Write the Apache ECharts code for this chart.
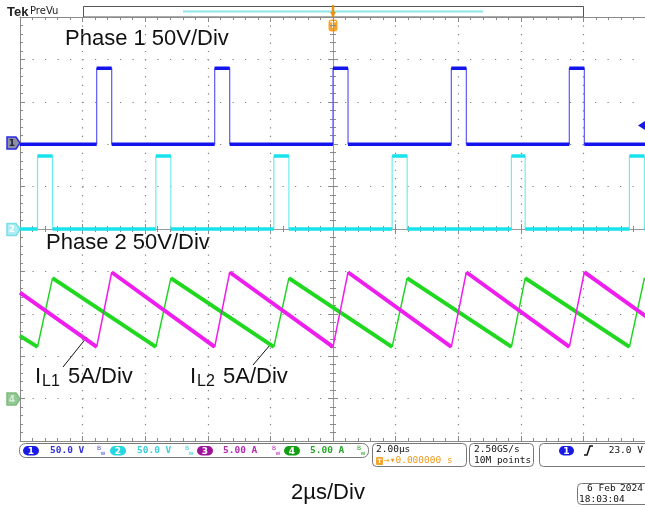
<!DOCTYPE html>
<html>
<head>
	<meta charset="utf-8">
</head>
<body style="margin: 0; background: #fff">
<div id="container" style="width: 645px; height: 508px"></div>
<script type="text/javascript" src="https://cdn.jsdelivr.net/npm/echarts@6/dist/echarts.min.js"></script>
<script type="text/javascript">
    var dom = document.getElementById("container");
    var myChart = echarts.init(dom);

    // time in µs (2 µs/div, trigger at 0), vertical in divisions (-5..5)
    var ch1Rise = [-7.55, -3.78, 0, 3.78, 7.55];
    var ch1Fall = [-7.07, -3.30, 0.48, 4.26, 8.03];
    var ch1High = 89.6;   // V
    var ch2Rise = [-9.44, -5.66, -1.89, 1.89, 5.70, 9.47];
    var ch2Fall = [-8.96, -5.18, -1.41, 2.37, 6.14, 9.95];
    var ch2High = 86;     // V
    var iL1Time = [-10, -7.55, -7.07, -3.78, -3.30, 0, 0.48, 3.78, 4.26, 7.55, 8.03, 10];
    var iL1Amp = [12.5, 6.1, 14.9, 6.1, 14.9, 6.1, 14.9, 6.1, 14.9, 6.1, 14.9, 9.7];
    var iL2Time = [-10, -9.44, -8.96, -5.66, -5.18, -1.89, -1.41, 1.89, 2.37, 5.70, 6.14, 9.47, 9.95, 10];
    var iL2Amp = [7.4, 6.1, 14.2, 6.1, 14.2, 6.1, 14.2, 6.1, 14.2, 6.1, 14.2, 6.1, 14.2, 14.1];

    // channel position (div) and scale (units/div)
    var ch1Pos = 2, ch2Pos = 0, ch3Pos = -4, ch4Pos = -4;
    var voltsDiv = 50, ampsDiv = 5;

    function pulseTrace(rise, fall, high, pos, scale) {
        var thin = [[-10, pos]], thick = [[-10, pos]];
        var top = pos + high / scale;
        for (var i = 0; i < rise.length; i++) {
            thin.push([rise[i], pos], [rise[i], top], [fall[i], top], [fall[i], pos]);
            thick.push([rise[i], pos], [rise[i], null], [rise[i], top], [fall[i], top], [fall[i], null], [fall[i], pos]);
        }
        thin.push([10, pos]);
        thick.push([10, pos]);
        return {thin: thin, thick: thick};
    }

    function rampTrace(time, amp, pos, scale) {
        var thin = [], thick = [];
        for (var i = 0; i < time.length; i++) {
            var p = [time[i], pos + amp[i] / scale];
            thin.push(p);
            thick.push(p);
            if (i < time.length - 1 && amp[i + 1] > amp[i]) {
                thick.push([(time[i] + time[i + 1]) / 2, null]);
            }
        }
        return {thin: thin, thick: thick};
    }

    var t1 = pulseTrace(ch1Rise, ch1Fall, ch1High, ch1Pos, voltsDiv);
    var t2 = pulseTrace(ch2Rise, ch2Fall, ch2High, ch2Pos, voltsDiv);
    var t3 = rampTrace(iL1Time, iL1Amp, ch3Pos, ampsDiv);
    var t4 = rampTrace(iL2Time, iL2Amp, ch4Pos, ampsDiv);

    function lineSeries(data, color, width) {
        return {
            type: 'line', data: data, showSymbol: false, connectNulls: false,
            xAxisIndex: 0, yAxisIndex: 0, silent: true,
            lineStyle: {color: color, width: width}
        };
    }

    var gridColor = '#8a8a8a';
    function frameAxis(pos, onZero, inside, extra) {
        var a = {
            type: 'value', position: pos, min: -10, max: 10, interval: 2,
            axisLine: {show: true, onZero: onZero, lineStyle: {color: gridColor, width: 1}},
            axisTick: {show: true, inside: inside, length: 5, lineStyle: {color: gridColor}},
            minorTick: {show: true, splitNumber: 5, length: 3, lineStyle: {color: gridColor}},
            axisLabel: {show: false},
            splitLine: {show: false}
        };
        return Object.assign(a, extra || {});
    }
    function frameYAxis(pos, onZero, inside, extra) {
        var a = frameAxis(pos, onZero, inside, extra);
        a.min = -5; a.max = 5; a.interval = 1;
        return a;
    }

    var monoFont = '"DejaVu Sans Mono", monospace';
    function txt(x, y, s, font, fill, align) {
        return {type: 'text', x: x, y: y, silent: true,
            style: {text: s, font: font, fill: fill, textAlign: align || 'left', textVerticalAlign: 'middle',
                align: align || 'left', verticalAlign: 'middle'}};
    }
    function box(x, y, w, h, r) {
        return {type: 'rect', shape: {x: x, y: y, width: w, height: h, r: r}, silent: true,
            style: {fill: '#fff', stroke: '#777', lineWidth: 1}};
    }
    function badge(x, y, w, h, num, color) {
        return [
            {type: 'rect', shape: {x: x, y: y, width: w, height: h, r: h / 2}, silent: true, style: {fill: color}},
            txt(x + w / 2, y + h / 2 + 0.5, num, 'bold 9px "DejaVu Sans"', '#fff', 'center')
        ];
    }
    function bwIcon(x, color) {
        return [txt(x, 448.5, 'B', '6px "DejaVu Sans"', color), txt(x + 3.5, 453, 'w', '6px "DejaVu Sans"', color)];
    }
    function chMarker(y, fill, stroke, num, numColor) {
        return [
            {type: 'polygon', shape: {points: [[7, y - 6], [16, y - 6], [20, y], [16, y + 6], [7, y + 6]]}, silent: true,
                style: {fill: fill, stroke: stroke, lineWidth: 1.5}},
            txt(12, y + 0.5, num, 'bold 9px "DejaVu Sans"', numColor, 'center')
        ];
    }

    var labelFont = '22px "Liberation Sans", Arial, sans-serif';
    var subFont = '16px "Liberation Sans", Arial, sans-serif';
    var statFont = '9.5px ' + monoFont;

    var graphics = [].concat(
        // top header
        [txt(7, 12.5, 'Tek', 'bold 13px "Liberation Sans", Arial', '#222'),
         txt(30, 11.5, 'PreVu', '10px "DejaVu Sans"', '#222'),
         {type: 'rect', shape: {x: 83.5, y: 6.5, width: 500, height: 10.5}, silent: true, style: {fill: '#fff', stroke: '#555', lineWidth: 1}},
         {type: 'line', shape: {x1: 183, y1: 11.5, x2: 483, y2: 11.5}, silent: true, style: {stroke: '#8fe6ea', lineWidth: 2}},
         {type: 'line', shape: {x1: 333, y1: 5, x2: 333, y2: 17}, silent: true, style: {stroke: '#e8930f', lineWidth: 2.5}},
         {type: 'polygon', shape: {points: [[330, 12], [336, 12], [333, 17]]}, silent: true, style: {fill: '#e8930f'}},
         {type: 'rect', shape: {x: 328.5, y: 19.5, width: 9, height: 12, r: 3}, silent: true, style: {fill: '#f2a531'}},
         txt(333, 26, 'T', 'bold 8px "DejaVu Sans"', '#fff', 'center')],
        // annotations
        [txt(65, 39, 'Phase 1 50V/Div', labelFont, '#111'),
         txt(46, 243, 'Phase 2 50V/Div', labelFont, '#111'),
         txt(35, 377, 'I', labelFont, '#111'),
         txt(42, 382, 'L1', subFont, '#111'),
         txt(68, 377, '5A/Div', labelFont, '#111'),
         txt(190, 377, 'I', labelFont, '#111'),
         txt(197, 382, 'L2', subFont, '#111'),
         txt(223, 377, '5A/Div', labelFont, '#111'),
         {type: 'line', shape: {x1: 63, y1: 367, x2: 87, y2: 337}, silent: true, style: {stroke: '#111', lineWidth: 1}},
         {type: 'line', shape: {x1: 253, y1: 365, x2: 270, y2: 345}, silent: true, style: {stroke: '#111', lineWidth: 1}},
         txt(328, 493, '2µs/Div', labelFont, '#111', 'center')],
        // channel markers
        chMarker(143, '#8d8fa3', '#2a2ae6', '1', '#223'),
        chMarker(229.5, '#aeeef2', '#78e0e8', '2', '#fff'),
        chMarker(399, '#94c894', '#7cbc7c', '4', '#d8f0d8'),
        [{type: 'polygon', shape: {points: [[638, 125.5], [645, 121], [645, 130]]}, silent: true, style: {fill: '#1a1ae6'}}],
        // status bar
        [box(19.5, 443.5, 349, 14, 6)],
        badge(23, 446, 16, 9.5, '1', '#1a1ae6'),
        [txt(50, 451, '50.0 V', 'bold ' + statFont, '#3434d8')],
        bwIcon(97, '#4a4ad8'),
        badge(110, 446, 16, 9.5, '2', '#26d6e0'),
        [txt(137, 451, '50.0 V', 'bold ' + statFont, '#3ad0dc')],
        bwIcon(185, '#2ccfdc'),
        badge(197, 446, 16, 9.5, '3', '#a0129c'),
        [txt(223, 451, '5.00 A', 'bold ' + statFont, '#b42cb0')],
        bwIcon(272, '#b41cb0'),
        badge(284, 446, 16, 9.5, '4', '#12a012'),
        [txt(310, 451, '5.00 A', 'bold ' + statFont, '#2aa82a')],
        bwIcon(357, '#1ca81c'),
        [box(372.5, 443.5, 94, 23, 4),
         txt(376, 450, '2.00µs', statFont, '#111'),
         {type: 'rect', shape: {x: 376, y: 457, width: 7, height: 8, r: 1}, silent: true, style: {fill: '#f2a531'}},
         txt(379.5, 461.5, 'T', 'bold 6px "DejaVu Sans"', '#fff', 'center'),
         txt(384, 461, '→▾0.000000 s', statFont, '#ef9a1f'),
         box(469.5, 443.5, 64, 23, 4),
         txt(474, 450, '2.50GS/s', statFont, '#111'),
         txt(474, 461, '10M points', statFont, '#111'),
         box(539.5, 443.5, 112, 23, 4)],
        badge(559, 446, 15, 9.5, '1', '#1a1ae6'),
        [{type: 'polyline', shape: {points: [[584, 455], [587, 455], [590, 446], [593, 446]]}, silent: true, style: {stroke: '#111', lineWidth: 1.5, fill: null}},
         txt(643, 450.5, '23.0 V', statFont, '#111', 'right'),
         box(577.5, 483.5, 75, 21, 4),
         txt(587, 489, '6 Feb', statFont, '#111'),
         txt(620, 489, '2024', statFont, '#111'),
         txt(579, 500, '18:03:04', statFont, '#111')]
    );

    var option = {
        backgroundColor: '#fff',
        animation: false,
        grid: {left: 20, top: 17, width: 626, height: 424, containLabel: false, outerBoundsMode: 'none'},
        xAxis: [
            frameAxis('bottom', false, true, {
                splitLine: {show: true, lineStyle: {color: '#808080', width: 1.2, type: [1.2, 7.28]}}
            }),
            frameAxis('top', false, true),
            frameAxis('bottom', true, true, {axisLine: {show: true, onZero: true, onZeroAxisIndex: 0, lineStyle: {color: '#999', width: 1}}}),
            frameAxis('bottom', true, false, {axisLine: {show: true, onZero: true, onZeroAxisIndex: 0, lineStyle: {color: '#999', width: 1}}})
        ],
        yAxis: [
            frameYAxis('left', false, true, {
                splitLine: {show: true, lineStyle: {color: '#808080', width: 1.2, type: [1.2, 11.3]}}
            }),
            frameYAxis('left', true, true, {axisLine: {show: true, onZero: true, onZeroAxisIndex: 0, lineStyle: {color: '#999', width: 1}}}),
            frameYAxis('left', true, false, {axisLine: {show: true, onZero: true, onZeroAxisIndex: 0, lineStyle: {color: '#999', width: 1}}})
        ],
        series: [
            lineSeries(t4.thin, '#22d422', 1.5),
            lineSeries(t4.thick, '#1fd81f', 4),
            lineSeries(t3.thin, '#f01cf0', 1.5),
            lineSeries(t3.thick, '#ee1eee', 4),
            lineSeries(t2.thin, '#6fecf2', 1.2),
            lineSeries(t2.thick, '#18e2ec', 3.5),
            lineSeries(t1.thin, '#5a5af0', 1.2),
            lineSeries(t1.thick, '#1414ee', 3.5)
        ],
        graphic: graphics
    };

    myChart.setOption(option, true);
</script>
</body>
</html>
